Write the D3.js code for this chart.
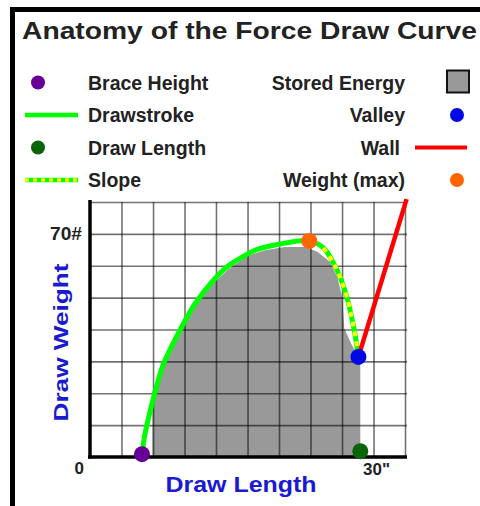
<!DOCTYPE html>
<html>
<head>
<meta charset="utf-8">
<script src="https://cdn.jsdelivr.net/npm/d3@7"></script>
<style>
    body { margin: 0; background: #fff; }
    svg { display: block; font-family: "Liberation Sans", Arial, sans-serif; font-weight: bold; }
</style>
</head>
<body>
<div id="chart"></div>
<script>
// drawstroke (inches, lbs)
const strokeInches = [5.5, 5.8, 6.4, 7.0, 7.7, 8.7, 9.7, 11.1, 12.9, 14.6, 16.1, 17.5, 20.1, 23.2, 24.7, 25.7, 26.5, 27.2, 27.7, 28.0, 28.4];
const strokeLbs = [0.9, 6.9, 14.8, 21.7, 28.6, 35.1, 40.8, 48.0, 54.9, 59.9, 62.7, 64.9, 66.8, 67.8, 65.6, 61.2, 56.2, 49.9, 43.6, 39.2, 31.4];

// outline of the stored energy area
const energyInches = [6.6, 6.6, 7.4, 8.5, 10.1, 11.6, 13.2, 14.8, 16.7, 18.5, 20.6, 22.8, 24.1, 25.4, 26.2, 26.7, 26.9, 27.7, 28.6, 28.6];
const energyLbs = [0, 20.4, 26.7, 33.6, 42.4, 49.3, 54.9, 59.3, 63.1, 64.9, 65.9, 65.9, 64.3, 61.2, 56.2, 49.9, 40.5, 35.1, 30.4, 0];

const wallInches = [28.4, 33.5];
const wallLbs = [31.4, 80.9];

// slope = part of the drawstroke after this draw length
const slopeFrom = 24.7;

// marked points
const pointNames = ['Brace Height', 'Weight (max)', 'Valley', 'Draw Length'];
const pointInches = [5.5, 23.2, 28.4, 28.6];
const pointLbs = [0.9, 67.8, 31.4, 1.8];

const gridInches = [3.33, 6.67, 10, 13.33, 16.67, 20, 23.33, 26.67, 30, 33.33];
const gridLbs = [10, 20, 30, 40, 50, 60, 70, 80];

const legendLeft = ['Brace Height', 'Drawstroke', 'Draw Length', 'Slope'];
const legendRight = ['Stored Energy', 'Valley', 'Wall', 'Weight (max)'];

const colors = {
    'Brace Height': '#660099',
    'Drawstroke': '#00ff00',
    'Draw Length': '#0a650a',
    'Slope': '#ffff00',
    'Stored Energy': '#999999',
    'Valley': '#0008e6',
    'Wall': '#ff0000',
    'Weight (max)': '#ff6600'
};

const textColor = '#222';
const axisTitleColor = '#1a1ad0';

const svgWidth = 480;
const svgHeight = 506;
const margin = {top: 202, left: 90};
const width = 315;
const height = 255;

const svg = d3.select('#chart').append('svg')
    .attr('width', svgWidth)
    .attr('height', svgHeight);

svg.append('rect').attr('width', svgWidth).attr('height', svgHeight).attr('fill', '#fff');

// frame
svg.append('path')
    .attr('d', 'M12.5,' + svgHeight + ' V9.5 H' + svgWidth)
    .attr('fill', 'none')
    .attr('stroke', '#000')
    .attr('stroke-width', 5);

// title
svg.append('text')
    .attr('x', 22)
    .attr('y', 39)
    .attr('font-size', 23)
    .attr('fill', textColor)
    .attr('textLength', 455)
    .attr('lengthAdjust', 'spacingAndGlyphs')
    .text('Anatomy of the Force Draw Curve');

// legend
const legendRow = i => 89.5 + i * 32.5;

function drawMarker(g, name, cx, cy) {
    if (name === 'Drawstroke' || name === 'Slope') {
        g.append('line').attr('x1', 25).attr('x2', 78).attr('y1', cy).attr('y2', cy)
            .attr('stroke', colors['Drawstroke']).attr('stroke-width', 4.5);
        if (name === 'Slope') {
            g.append('line').attr('x1', 25).attr('x2', 78).attr('y1', cy).attr('y2', cy)
                .attr('stroke', colors['Slope']).attr('stroke-width', 3.5)
                .attr('stroke-dasharray', '4 4');
        }
    } else if (name === 'Wall') {
        g.append('line').attr('x1', 415).attr('x2', 467).attr('y1', cy).attr('y2', cy)
            .attr('stroke', colors[name]).attr('stroke-width', 4);
    } else if (name === 'Stored Energy') {
        g.append('rect').attr('x', 447).attr('y', cy - 12).attr('width', 22).attr('height', 22)
            .attr('fill', colors[name]).attr('stroke', '#111').attr('stroke-width', 2);
    } else {
        g.append('circle').attr('cx', cx).attr('cy', cy).attr('r', 7).attr('fill', colors[name]);
    }
}

const legend = svg.append('g').attr('class', 'legend');

legendLeft.forEach((name, i) => {
    drawMarker(legend, name, 38, legendRow(i) - 7);
    legend.append('text')
        .attr('x', 88).attr('y', legendRow(i))
        .attr('font-size', 19.5).attr('fill', textColor)
        .text(name);
});

legendRight.forEach((name, i) => {
    drawMarker(legend, name, 457, legendRow(i) - 7);
    legend.append('text')
        .attr('x', name === 'Wall' ? 400 : 405).attr('y', legendRow(i))
        .attr('text-anchor', 'end')
        .attr('font-size', 19.5).attr('fill', textColor)
        .text(name);
});

// scales
const xScale = d3.scaleLinear().domain([0, 33.33]).range([0, width]);
const yScale = d3.scaleLinear().domain([0, 80]).range([height, 0]);

const chartGroup = svg.append('g')
    .attr('class', 'chart-group')
    .attr('transform', 'translate(' + [margin.left, margin.top] + ')');

const toPoints = (xs, ys) => xs.map((x, i) => [x, ys[i]]);

// stored energy
chartGroup.append('path')
    .datum(toPoints(energyInches, energyLbs))
    .attr('fill', colors['Stored Energy'])
    .attr('d', d3.line().x(d => xScale(d[0])).y(d => yScale(d[1])));

// grid
function styleGrid(g) {
    g.select('.domain').remove();
    g.selectAll('.tick line')
        .attr('stroke', '#000')
        .attr('stroke-opacity', 0.55)
        .attr('stroke-width', 1.6);
}

chartGroup.append('g')
    .attr('class', 'grid x')
    .attr('transform', 'translate(0,' + height + ')')
    .call(d3.axisBottom(xScale).tickValues(gridInches).tickSize(-height).tickFormat(''))
    .call(styleGrid);

chartGroup.append('g')
    .attr('class', 'grid y')
    .call(d3.axisLeft(yScale).tickValues(gridLbs).tickSize(-(width + 2)).tickFormat(''))
    .call(styleGrid);

// axis lines
chartGroup.append('line')
    .attr('x1', 0).attr('x2', 0).attr('y1', -2).attr('y2', height + 1.5)
    .attr('stroke', '#000').attr('stroke-width', 3.5);
chartGroup.append('line')
    .attr('x1', -2).attr('x2', width + 2).attr('y1', height).attr('y2', height)
    .attr('stroke', '#000').attr('stroke-width', 3.5);

// tick labels
chartGroup.append('text')
    .attr('x', xScale(0) - 6).attr('y', height + 17)
    .attr('text-anchor', 'end').attr('font-size', 17).attr('fill', textColor)
    .text('0');
chartGroup.append('text')
    .attr('x', xScale(30) + 3).attr('y', height + 18)
    .attr('text-anchor', 'middle').attr('font-size', 17).attr('fill', textColor)
    .text('30"');
chartGroup.append('text')
    .attr('x', -8).attr('y', yScale(70) + 6)
    .attr('text-anchor', 'end').attr('font-size', 18).attr('fill', textColor)
    .attr('textLength', 32).attr('lengthAdjust', 'spacingAndGlyphs')
    .text('70#');

// axis titles
svg.append('text')
    .attr('x', 241).attr('y', 492)
    .attr('text-anchor', 'middle').attr('font-size', 22).attr('fill', axisTitleColor)
    .attr('textLength', 151).attr('lengthAdjust', 'spacingAndGlyphs')
    .text('Draw Length');
svg.append('text')
    .attr('transform', 'translate(68,342.5) rotate(-90)')
    .attr('text-anchor', 'middle').attr('font-size', 21).attr('fill', axisTitleColor)
    .attr('textLength', 158).attr('lengthAdjust', 'spacingAndGlyphs')
    .text('Draw Weight');

// lines
const curve = d3.line()
    .x(d => xScale(d[0]))
    .y(d => yScale(d[1]))
    .curve(d3.curveCatmullRom.alpha(0.5));

const stroke = toPoints(strokeInches, strokeLbs);

chartGroup.append('path')
    .datum(stroke)
    .attr('fill', 'none')
    .attr('stroke', colors['Drawstroke'])
    .attr('stroke-width', 5)
    .attr('stroke-linejoin', 'round')
    .attr('d', curve);

chartGroup.append('path')
    .datum(stroke.filter(d => d[0] >= slopeFrom))
    .attr('fill', 'none')
    .attr('stroke', colors['Slope'])
    .attr('stroke-width', 4)
    .attr('stroke-dasharray', '5 5')
    .attr('d', curve);

chartGroup.append('path')
    .datum(toPoints(wallInches, wallLbs))
    .attr('fill', 'none')
    .attr('stroke', colors['Wall'])
    .attr('stroke-width', 4.5)
    .attr('d', d3.line().x(d => xScale(d[0])).y(d => yScale(d[1])));

// points
chartGroup.selectAll('.point')
    .data(pointNames)
    .enter()
    .append('circle')
    .attr('class', 'point')
    .attr('cx', (d, i) => xScale(pointInches[i]))
    .attr('cy', (d, i) => yScale(pointLbs[i]))
    .attr('r', 8)
    .attr('fill', d => colors[d]);
</script>
</body>
</html>
